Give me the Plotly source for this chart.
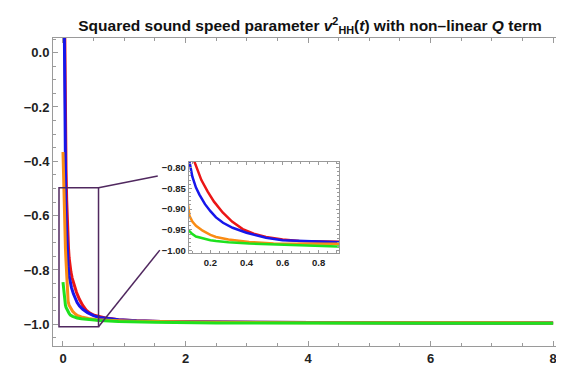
import plotly.graph_objects as go

# ---- data ----
t_red = [0.028, 0.035, 0.04, 0.05, 0.06, 0.07, 0.08, 0.09, 0.10, 0.112, 0.13, 0.15, 0.185, 0.22,
         0.268, 0.32, 0.379, 0.44, 0.508, 0.6, 0.692, 0.8, 0.905, 1.2, 1.6, 2.5, 4, 6, 8]
v_red = [0.10, -0.14, -0.26, -0.43, -0.54, -0.62, -0.68, -0.72, -0.755, -0.786, -0.808, -0.830, -0.858, -0.882,
         -0.908, -0.930, -0.948, -0.959, -0.967, -0.973, -0.977, -0.980, -0.983, -0.987, -0.990, -0.992, -0.994, -0.995, -0.995]

t_blue = [0.022, 0.026, 0.03, 0.0375, 0.045, 0.0525, 0.06, 0.0675, 0.075, 0.084, 0.10, 0.12, 0.139, 0.17, 0.2,
          0.231, 0.27, 0.323, 0.4, 0.508, 0.6, 0.7, 0.8, 0.905, 1.2, 1.6, 2.5, 4, 6, 8]
v_blue = [0.08, -0.14, -0.26, -0.43, -0.54, -0.62, -0.68, -0.72, -0.755, -0.786, -0.822, -0.848, -0.865, -0.888, -0.905,
          -0.920, -0.933, -0.945, -0.957, -0.969, -0.975, -0.978, -0.981, -0.983, -0.987, -0.990, -0.992, -0.994, -0.995, -0.995]

t_orange = [0.0, 0.005, 0.01, 0.02, 0.03, 0.04, 0.05, 0.06, 0.07, 0.084, 0.1, 0.12, 0.157, 0.2, 0.231,
            0.3, 0.415, 0.55, 0.7, 0.905, 1.2, 1.6, 2.5, 4, 6, 8]
v_orange = [-0.366, -0.42, -0.48, -0.58, -0.66, -0.72, -0.77, -0.82, -0.87, -0.916, -0.930, -0.940, -0.952, -0.962, -0.967,
            -0.973, -0.979, -0.983, -0.985, -0.987, -0.989, -0.991, -0.993, -0.994, -0.995, -0.995]

t_green = [0.0, 0.01, 0.02, 0.03, 0.04, 0.05, 0.06, 0.07, 0.084, 0.1, 0.12, 0.157, 0.2, 0.231, 0.3,
           0.415, 0.6, 0.905, 1.5, 2.5, 4, 6, 8]
v_green = [-0.845, -0.875, -0.900, -0.918, -0.930, -0.938, -0.944, -0.949, -0.953, -0.960, -0.966, -0.971, -0.975, -0.977, -0.980,
           -0.983, -0.986, -0.990, -0.993, -0.995, -0.996, -0.996, -0.996]

main_xticks = [0, 2, 4, 6, 8]
main_yticks = [-1.0, -0.8, -0.6, -0.4, -0.2, 0.0]
inset_xticks = [0.2, 0.4, 0.6, 0.8]
inset_yticks = [-1.0, -0.95, -0.9, -0.85, -0.8]

# zoom box (in main-axis data units) and connector end points
box_x = [-0.065, 0.58]
box_y = [-1.009, -0.497]
conn_top_end = [1.547, -0.454]
conn_bot_end = [1.58, -0.727]

series = [
    (t_red, v_red, "rgb(235,22,22)"),
    (t_blue, v_blue, "rgb(22,22,235)"),
    (t_orange, v_orange, "rgb(250,140,20)"),
    (t_green, v_green, "rgb(30,225,30)"),
]

fig = go.Figure()
for t, v, c in series:
    fig.add_trace(go.Scatter(x=t, y=v, mode="lines", line=dict(color=c, width=3),
                             xaxis="x", yaxis="y", showlegend=False, hoverinfo="skip"))
for t, v, c in series:
    fig.add_trace(go.Scatter(x=t, y=v, mode="lines", line=dict(color=c, width=2.5),
                             xaxis="x2", yaxis="y2", showlegend=False, hoverinfo="skip"))

frame = "#9a9a9a"
tick_font = dict(family="Liberation Sans", size=13, color="#222222", weight="bold")
inset_font = dict(family="Liberation Sans", size=9.5, color="#222222", weight="bold")

common = dict(showline=True, linecolor=frame, linewidth=1, mirror="allticks", ticks="inside",
              tickcolor=frame, showgrid=False, zeroline=False)

fig.update_layout(
    width=564, height=367,
    margin=dict(l=45, r=9, t=30, b=22),
    paper_bgcolor="white", plot_bgcolor="white",
    title=dict(text="Squared sound speed parameter <i>v</i><sup>2</sup><sub>HH</sub>(<i>t</i>) with non\u2013linear <i>Q</i> term",
               x=0.505, xref="paper", xanchor="center", y=0.952, yanchor="middle",
               font=dict(family="Liberation Sans", size=15.5, color="#111111", weight="bold")),
    xaxis=dict(domain=[0, 1], range=[-0.163, 8.145], tickvals=main_xticks, tickformat="d",
               ticklen=5, tickfont=tick_font,
               minor=dict(ticks="inside", ticklen=3, dtick=0.5, tick0=0, tickcolor=frame), **common),
    yaxis=dict(domain=[0, 1], range=[-1.08, 0.054], tickvals=main_yticks, tickformat=".1f",
               ticklen=5, tickfont=tick_font,
               minor=dict(ticks="inside", ticklen=3, dtick=0.05, tick0=0, tickcolor=frame), **common),
    xaxis2=dict(domain=[0.2667, 0.5627], anchor="y2", range=[0.08, 0.915], tickvals=inset_xticks,
                tickformat=".1f", ticklen=3, tickfont=inset_font,
                minor=dict(ticks="inside", ticklen=2, dtick=0.05, tick0=0, tickcolor=frame), **common),
    yaxis2=dict(domain=[0.3016, 0.598], anchor="x2", range=[-1.006, -0.786], tickvals=inset_yticks,
                tickformat=".2f", ticklen=3, tickfont=inset_font,
                minor=dict(ticks="inside", ticklen=2, dtick=0.01, tick0=0, tickcolor=frame), **common),
)

box_col = "rgb(80,40,95)"
fig.add_shape(type="rect", xref="x", yref="y", x0=box_x[0], x1=box_x[1], y0=box_y[0], y1=box_y[1],
              line=dict(color=box_col, width=1.5))
fig.add_shape(type="line", xref="x", yref="y", x0=box_x[1], y0=box_y[1], x1=conn_top_end[0], y1=conn_top_end[1],
              line=dict(color=box_col, width=1.5))
fig.add_shape(type="line", xref="x", yref="y", x0=box_x[1], y0=box_y[0], x1=conn_bot_end[0], y1=conn_bot_end[1],
              line=dict(color=box_col, width=1.5))

fig.write_html("out.html")
